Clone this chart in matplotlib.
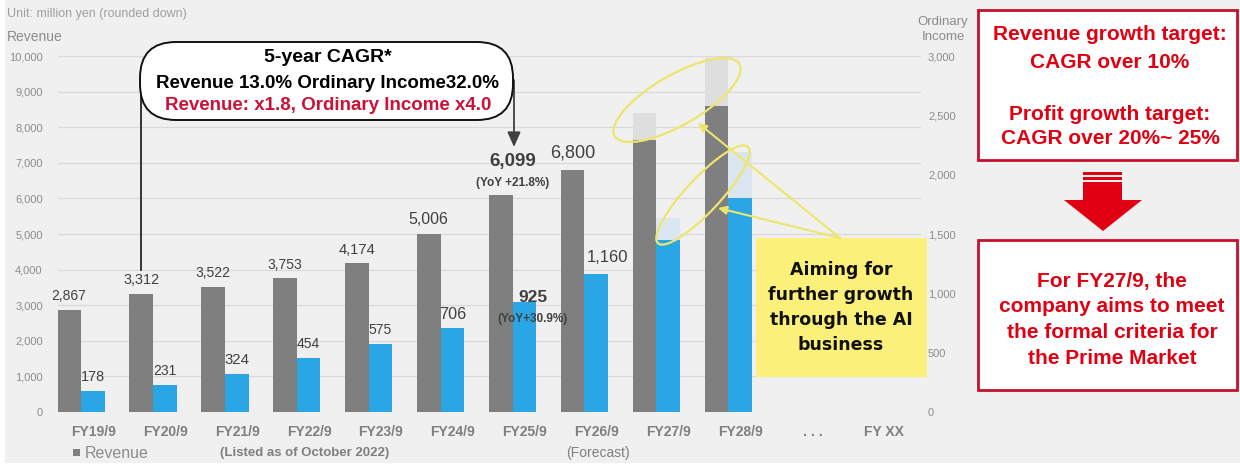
import numpy as np
import matplotlib
matplotlib.use('Agg')
import matplotlib.pyplot as plt
from matplotlib.patches import Rectangle, Ellipse, FancyBboxPatch, Polygon

plt.rcParams['font.family'] = ['Liberation Sans', 'DejaVu Sans']

## data ##
categories = ['FY19/9', 'FY20/9', 'FY21/9', 'FY22/9', 'FY23/9', 'FY24/9',
              'FY25/9', 'FY26/9', 'FY27/9', 'FY28/9', '. . .', 'FY XX']
revenue = [2867, 3312, 3522, 3753, 4174, 5006, 6099, 6800, 7640, 8600, np.nan, np.nan]
revenue_upper = [np.nan] * 8 + [8400, 9950, np.nan, np.nan]
ordinary_income = [178, 231, 324, 454, 575, 706, 925, 1160, 1450, 1800, np.nan, np.nan]
income_upper = [np.nan] * 8 + [1635, 2190, np.nan, np.nan]
n_labeled = 8          # FY19/9 .. FY26/9 carry value labels
highlight = 6          # FY25/9, shown with YoY
yoy_revenue = '(YoY +21.8%)'
yoy_income = '(YoY+30.9%)'

rev_ticks = np.arange(0, 10001, 1000)
inc_ticks = np.arange(0, 3001, 500)

rev_label_size = [10, 10.4, 10, 10, 10.6, 11.5, 13.5, 13]
inc_label_size = [10.4, 10, 10.8, 10, 10, 11.6, 12.5, 12]

GRAY = '#7f7f7f'
BLUE = '#2aa6e6'
RED = '#e10012'
DARK = '#404040'

W = 0.33
x = np.arange(len(categories))
rev = np.array(revenue, dtype=float)
inc = np.array(ordinary_income, dtype=float)

fig = plt.figure(figsize=(12.4, 4.66), dpi=100, facecolor='#f0f0f0')
ax = fig.add_axes([58 / 1240, 1 - 412 / 466, (921 - 58) / 1240, (412 - 56) / 466])
ax.set_facecolor('none')

# revenue bars, plan range on top for FY27/FY28
ax.bar(x - W / 2, rev, W, color=GRAY, zorder=2)
ax.bar(x - W / 2, np.array(revenue_upper) - rev, W, bottom=rev, color='#dedede', zorder=2)
ax.set_xlim(-0.32, 11.68)
ax.set_ylim(0, 10000)
ax.set_yticks(rev_ticks, [f'{v:,}' for v in rev_ticks])
ax.set_xticks(x + 0.17, categories)
ax.tick_params(axis='y', length=0, pad=11, labelsize=8, labelcolor='#8c8c8c')
ax.tick_params(axis='x', length=0, pad=9, labelsize=10, labelcolor=GRAY)
for t in ax.get_xticklabels():
    t.set_fontweight('bold')
ax.yaxis.grid(True, color='#d9d9d9', lw=0.9)
ax.set_axisbelow(True)
for s in ax.spines.values():
    s.set_visible(False)

# ordinary income on the right axis
ax2 = ax.twinx()
ax2.bar(x + W / 2, inc, W, color=BLUE, zorder=2)
ax2.bar(x + W / 2, np.array(income_upper) - inc, W, bottom=inc, color='#dbe6f0', zorder=2)
ax2.set_ylim(0, 3000)
ax2.set_yticks(inc_ticks, [f'{v:,}' for v in inc_ticks])
ax2.tick_params(axis='y', length=0, pad=5, labelsize=8, labelcolor='#8c8c8c')
for s in ax2.spines.values():
    s.set_visible(False)

# value labels
for i in range(n_labeled):
    if i == highlight:
        ax2.annotate(f'{revenue[i]:,}', xy=(x[i], revenue[i]), xycoords=ax.transData,
                     xytext=(0, 24), textcoords='offset points', ha='center', va='center',
                     fontsize=rev_label_size[i], fontweight='bold', color=DARK)
        ax2.annotate(yoy_revenue, xy=(x[i], revenue[i]), xycoords=ax.transData,
                     xytext=(0, 8.6), textcoords='offset points', ha='center', va='center',
                     fontsize=8.5, fontweight='bold', color=DARK)
        ax2.annotate(f'{ordinary_income[i]:,}', xy=(x[i] + W / 2, ordinary_income[i]),
                     xytext=(6, 3.6), textcoords='offset points', ha='center', va='center',
                     fontsize=inc_label_size[i], fontweight='bold', color=DARK, zorder=5)
        ax2.annotate(yoy_income, xy=(x[i] + W / 2, ordinary_income[i]),
                     xytext=(5.5, -12), textcoords='offset points', ha='center', va='center',
                     fontsize=8.5, fontweight='bold', color=DARK, zorder=5)
        continue
    dy = 12 if i == 7 else 10
    dx = 8 if i == 7 else 0
    ax2.annotate(f'{revenue[i]:,}', xy=(x[i] - W / 2, revenue[i]), xycoords=ax.transData,
                 xytext=(0, dy), textcoords='offset points', ha='center', va='center',
                 fontsize=rev_label_size[i], color=DARK)
    ax2.annotate(f'{ordinary_income[i]:,}', xy=(x[i] + W / 2, ordinary_income[i]),
                 xytext=(dx, dy), textcoords='offset points', ha='center', va='center',
                 fontsize=inc_label_size[i], color=DARK)

## overlay in pixel units for callouts and side panel ##
ov = fig.add_axes([0, 0, 1, 1], zorder=10)
ov.set_xlim(0, 1240)
ov.set_ylim(466, 0)
ov.axis('off')

# white frame edges
ov.add_patch(Rectangle((0, 463), 1240, 3, fc='white', ec='none'))
ov.add_patch(Rectangle((0, 0), 5, 466, fc='white', ec='none'))

ov.text(7, 14, 'Unit: million yen (rounded down)', fontsize=9, color='#a0a0a0', va='center')
ov.text(7, 37, 'Revenue', fontsize=10, color='#8c8c8c', va='center')
ov.text(943, 22, 'Ordinary', fontsize=9.5, color='#8c8c8c', va='center', ha='center')
ov.text(943, 37, 'Income', fontsize=9.5, color='#8c8c8c', va='center', ha='center')

ov.add_patch(Rectangle((73, 449), 7, 7, fc=GRAY, ec='none'))
ov.text(85, 453, 'Revenue', fontsize=11.5, color='#8c8c8c', va='center')
ov.text(305, 453, '(Listed as of October 2022)', fontsize=9.5, fontweight='bold',
        color=GRAY, va='center', ha='center')
ov.text(598, 453, '(Forecast)', fontsize=10, color=GRAY, va='center', ha='center')

# CAGR callout
ov.plot([141, 141], [80, 270], color='#262626', lw=1.3, zorder=2)
ov.annotate('', xy=(514, 147), xytext=(514, 80),
            arrowprops=dict(arrowstyle='-|>,head_length=0.9,head_width=0.4',
                            color=DARK, lw=1.3, shrinkA=0, shrinkB=0), zorder=2)
ov.add_patch(FancyBboxPatch((140, 42), 373, 78, boxstyle='round,pad=0,rounding_size=36',
                            fc='white', ec='#111111', lw=1.4, zorder=3))
ov.text(328, 58, '5-year CAGR*', fontsize=14, fontweight='bold', color='black',
        ha='center', va='center', zorder=4)
ov.text(328, 83, 'Revenue 13.0% Ordinary Income32.0%', fontsize=13.5, fontweight='bold',
        color='black', ha='center', va='center', zorder=4)
ov.text(328, 105, 'Revenue: x1.8, Ordinary Income x4.0', fontsize=13.5, fontweight='bold',
        color='#cc1236', ha='center', va='center', zorder=4)

# AI business note with pointers
YEL = '#eee56c'
ov.add_patch(Rectangle((756, 238), 171, 139, fc='#fbf07a', ec='none', zorder=2))
for k, line in enumerate(['Aiming for', 'further growth', 'through the AI', 'business']):
    ov.text(841, 270 + 25 * k, line, fontsize=12.5, fontweight='bold', family='DejaVu Sans',
            color='#111111', ha='center', va='center', zorder=3)
ov.add_patch(Ellipse((677, 100), 144, 50, angle=-30, fc='none', ec=YEL, lw=1.6))
ov.add_patch(Ellipse((703, 195), 132, 34, angle=-47, fc='none', ec=YEL, lw=1.6))
for tip in [(698, 123), (718, 208)]:
    ov.annotate('', xy=tip, xytext=(840, 238),
                arrowprops=dict(arrowstyle='-|>,head_length=0.5,head_width=0.25',
                                color=YEL, lw=1.5, shrinkA=0, shrinkB=0))

# targets panel
BORDER = '#c4102c'
ov.add_patch(Rectangle((978, 10), 259, 150, fc='white', ec=BORDER, lw=2))
ov.add_patch(Rectangle((978, 240), 259, 150, fc='white', ec=BORDER, lw=2))
for y0, line in zip([35, 63, 114, 139],
                    ['Revenue growth target:', 'CAGR over 10%',
                     'Profit growth target:', 'CAGR over 20%~ 25%']):
    ov.text(1110, y0, line, fontsize=15, fontweight='bold', color=RED, ha='center', va='center')
for y0, line in zip([281, 307, 332, 359],
                    ['For FY27/9, the', 'company aims to meet',
                     'the formal criteria for', 'the Prime Market']):
    ov.text(1112, y0, line, fontsize=15, fontweight='bold', color=RED, ha='center', va='center')

ov.add_patch(Rectangle((1083, 172), 39, 2.5, fc=RED, ec='none'))
ov.add_patch(Rectangle((1083, 177), 39, 2.5, fc=RED, ec='none'))
ov.add_patch(Polygon([(1083, 182), (1122, 182), (1122, 200), (1142, 200), (1103, 231),
                      (1064, 200), (1083, 200)], closed=True, fc=RED, ec='none'))

fig.savefig('out.png', dpi=100, facecolor=fig.get_facecolor())
